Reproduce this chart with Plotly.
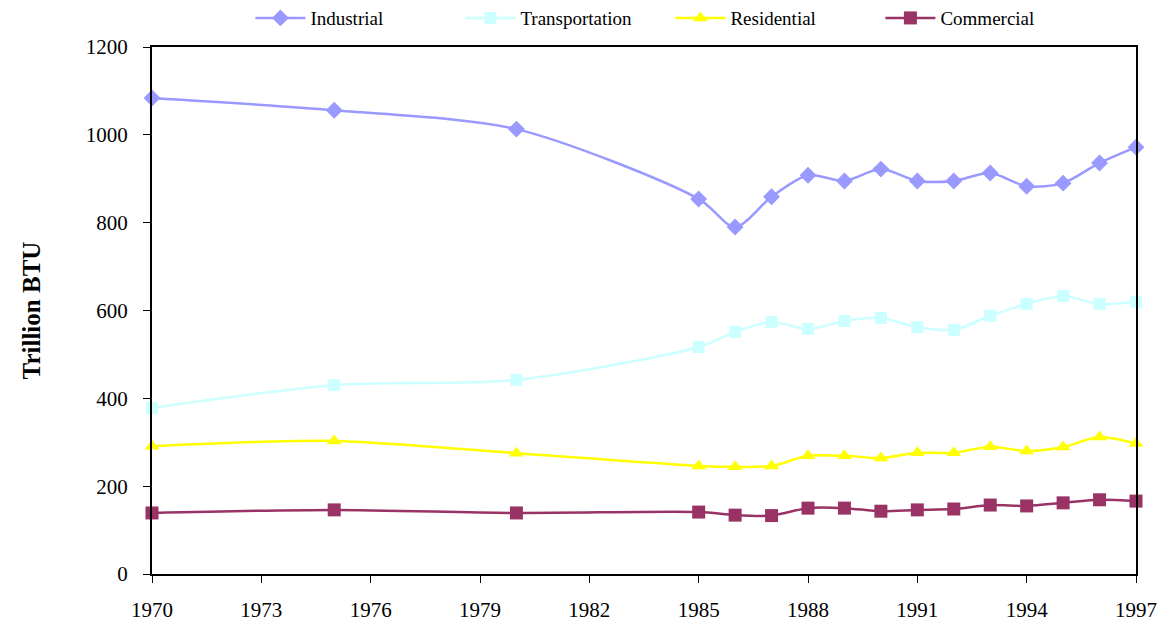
import plotly.graph_objects as go

years = [1970, 1975, 1980, 1985, 1986, 1987, 1988, 1989, 1990, 1991, 1992, 1993, 1994, 1995, 1996, 1997]
industrial = [1084, 1056, 1013, 854, 790, 859, 908, 895, 922, 895, 895, 913, 883, 890, 936, 972]
transportation = [378, 430, 442, 517, 551, 574, 558, 576, 583, 562, 556, 588, 615, 633, 615, 620]
residential = [291, 303, 275, 246, 244, 246, 269, 269, 264, 276, 276, 290, 280, 289, 312, 297]
commercial = [139, 146, 139, 141, 134, 133, 150, 150, 143, 146, 148, 157, 155, 162, 169, 166]

series = [
    ("Industrial", industrial, "#9999FF", "diamond", 13),
    ("Transportation", transportation, "#CCFFFF", "square", 12),
    ("Residential", residential, "#FFFF00", "triangle-up", 13),
    ("Commercial", commercial, "#993366", "square", 13),
]

font_family = "Liberation Serif, Times New Roman, serif"

fig = go.Figure()
for name, vals, color, sym, size in series:
    fig.add_trace(go.Scatter(
        x=years, y=vals, name=name, mode="lines+markers",
        line=dict(color=color, width=2.5, shape="spline", smoothing=0.8),
        marker=dict(symbol=sym, size=size, color=color, line=dict(width=0)),
        cliponaxis=False,
    ))

fig.update_layout(
    width=1165, height=623,
    margin=dict(l=152, r=29, t=47, b=49, autoexpand=False),
    paper_bgcolor="white", plot_bgcolor="white",
    font=dict(family=font_family, size=21, color="black"),
    showlegend=True,
    legend=dict(orientation="h", x=0.1, xanchor="left", y=0.971, yanchor="middle",
                yref="container",
                font=dict(size=19), itemwidth=50, entrywidth=145,
                bgcolor="rgba(0,0,0,0)"),
    xaxis=dict(range=[1970, 1997], tickmode="linear", tick0=1970, dtick=3,
               showgrid=False, zeroline=False, showline=True, linecolor="black", linewidth=2,
               mirror=True, ticks="outside", ticklen=7, tickcolor="black", tickwidth=1,
               ticklabelstandoff=9, automargin=False),
    yaxis=dict(range=[0, 1200], tickmode="linear", tick0=0, dtick=200,
               showgrid=False, zeroline=False, showline=True, linecolor="black", linewidth=2,
               mirror=True, ticks="outside", ticklen=7, tickcolor="black", tickwidth=1,
               ticklabelstandoff=11, automargin=False,
               title=dict(text="<b>Trillion BTU</b>", font=dict(size=25), standoff=38)),
)

fig.write_html("out.html", config={"displayModeBar": False},
               post_script="document.body.style.margin='0';")
